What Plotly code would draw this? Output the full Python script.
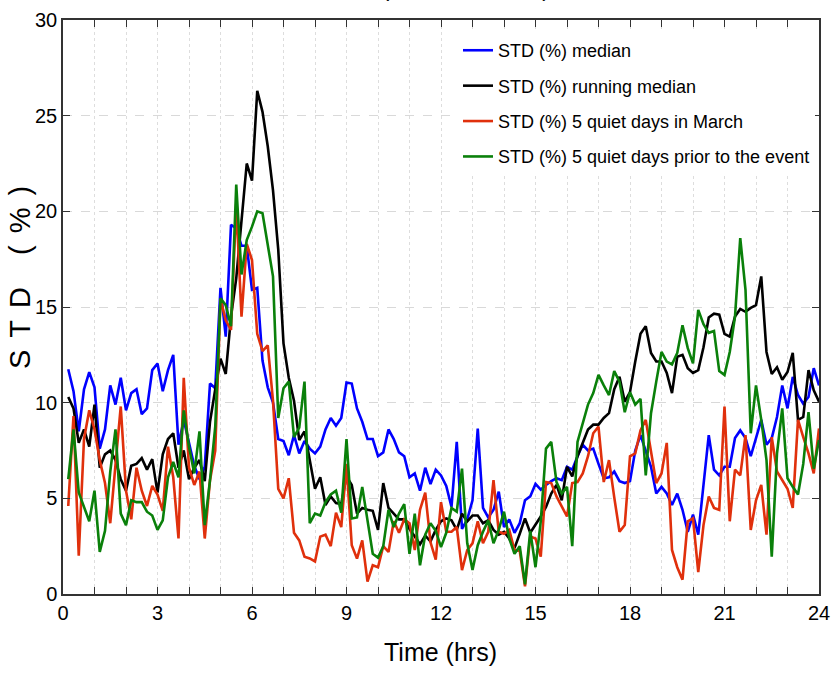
import plotly.graph_objects as go

# 10-minute samples over 24 hours
time_hrs = [i / 6 for i in range(1, 145)]

std_median = [
    11.75, 10.6, 8.5, 10.7, 11.6, 10.8, 7.6, 8.6, 10.9, 9.9, 11.3, 9.6,
    10.5, 10.7, 9.4, 9.7, 11.7, 12.05, 10.6, 11.7, 12.5, 7.8, 9.1, 7.9,
    6.7, 6.0, 6.65, 11.0, 10.75, 16.0, 13.45, 19.3, 19.1, 18.2, 18.2, 15.9,
    16.0, 12.2, 10.8, 10.0, 8.1, 8.0, 7.25, 8.3, 7.35, 8.0, 7.6, 7.35,
    7.7, 8.6, 9.2, 8.8, 9.2, 11.05, 11.0, 9.7, 9.0, 8.1, 8.1, 7.2,
    7.4, 8.6, 8.1, 7.4, 7.2, 6.1, 6.3, 5.4, 6.6, 5.75, 6.5, 6.2,
    5.65, 4.55, 7.95, 3.4, 3.9, 4.9, 8.65, 4.5, 4.0, 4.4, 5.35, 3.5,
    3.9, 3.2, 3.7, 4.9, 5.1, 5.75, 5.45, 5.7, 5.9, 6.05, 5.95, 6.65,
    6.5, 7.2, 7.8, 7.5, 7.6, 6.8, 6.05, 6.1, 6.4, 5.9, 5.8, 5.9,
    7.5, 8.3, 7.45, 6.65, 5.25, 5.6, 5.25, 4.65, 5.25, 4.4, 3.25, 4.15,
    3.1, 5.7, 8.3, 6.5, 6.2, 6.65, 6.65, 8.15, 8.55, 8.15, 7.2, 8.15,
    9.1, 7.8, 8.15, 9.25, 10.9, 9.7, 11.35, 10.4, 9.95, 10.3, 11.8, 10.9,
]

std_running_median = [
    10.3, 9.7, 7.9, 8.6, 7.7, 9.9, 6.6, 7.3, 7.5, 7.0, 6.0, 5.4,
    6.7, 6.8, 7.1, 6.5, 7.05, 5.3, 7.3, 8.1, 8.4, 6.6, 7.5, 6.0,
    6.6, 7.0, 5.9, 9.0, 10.7, 12.3, 11.5, 14.5, 16.5, 19.3, 22.5, 21.6,
    26.3, 25.2, 23.4, 21.1, 18.0, 13.1, 11.3, 10.1, 8.05, 8.5, 7.0, 5.5,
    6.1, 4.65, 5.1, 4.75, 4.7, 6.15, 5.7, 4.2, 4.5, 4.4, 4.35, 3.35,
    5.8, 4.5, 4.2, 3.9, 3.9, 3.4, 3.0, 2.6, 3.05, 2.75, 3.35, 3.8,
    3.95, 3.85, 3.35, 4.2, 3.8, 4.1, 4.1, 3.7, 3.85, 3.35, 3.1, 3.25,
    2.9, 2.4, 3.15, 3.95, 3.2, 3.6, 4.05, 4.55, 5.25, 5.7, 4.9, 6.65,
    6.15, 7.2, 7.9, 8.6, 8.85, 8.85, 9.2, 9.45, 10.7, 11.35, 10.05, 10.55,
    12.15, 13.6, 14.0, 12.6, 12.15, 12.15, 11.55, 10.5, 12.4, 12.5, 11.8, 11.55,
    11.7, 12.9, 14.45, 14.65, 14.6, 13.6, 13.45, 14.5, 14.9, 14.75, 14.95, 15.1,
    16.6, 12.65, 11.5, 11.85, 11.2, 11.6, 12.6, 9.1, 9.25, 11.7, 10.65, 10.05,
]

std_quiet_march = [
    4.6, 9.3, 2.0, 8.1, 9.6, 8.6, 7.0, 5.8, 3.7, 6.8, 9.8, 5.4,
    3.9, 6.6, 5.4, 4.6, 5.65, 5.2, 4.35, 7.7, 6.1, 2.9, 11.3, 6.6,
    5.7, 6.4, 2.9, 5.95, 7.5, 15.4, 14.3, 13.8, 20.4, 14.5, 18.3, 17.45,
    13.6, 12.7, 13.0, 10.1, 5.5, 5.0, 6.05, 3.2, 2.8, 1.95, 1.86, 1.7,
    3.0, 3.1, 2.5, 4.25, 3.5, 6.8, 2.55, 1.85, 2.8, 0.65, 1.5, 1.4,
    2.5, 2.2, 3.8, 3.2, 3.9, 3.7, 2.3, 4.4, 5.3, 2.7, 1.8, 4.8,
    3.25, 3.25, 3.5, 1.25, 2.3, 2.65, 3.8, 2.65, 3.25, 5.95, 3.25, 3.15,
    3.35, 2.3, 2.25, 0.4, 3.0, 2.9, 1.95, 5.85, 5.8, 5.1, 4.55, 4.05,
    5.8, 5.85, 6.3, 7.2, 8.4, 8.75, 5.85, 7.0, 5.05, 3.25, 3.6, 7.2,
    7.35, 8.55, 9.1, 7.35, 5.8, 6.3, 7.9, 2.3, 1.4, 0.75, 3.8, 3.95,
    1.15, 3.6, 5.1, 4.5, 4.4, 9.8, 3.8, 6.5, 6.2, 8.3, 3.35, 4.9,
    5.7, 3.1, 8.2, 6.4, 5.95, 5.5, 4.5, 9.1, 8.2, 7.35, 6.3, 8.65,
]

std_quiet_prior = [
    6.0, 8.6, 5.3, 4.6, 3.8, 5.4, 2.2, 3.3, 6.4, 8.6, 4.2, 3.6,
    4.9, 4.8, 4.8, 4.3, 4.1, 3.35, 3.85, 6.1, 6.9, 6.1, 9.6, 7.7,
    6.3, 8.5, 3.6, 5.95, 8.75, 15.45, 15.1, 14.0, 21.4, 16.7, 18.5, 19.2,
    20.0, 19.9, 18.3, 16.6, 9.2, 10.75, 11.1, 8.2, 8.7, 11.1, 3.7, 4.2,
    4.1, 4.8, 5.2, 5.4, 4.25, 8.1, 3.95, 4.0, 5.6, 3.8, 2.1, 1.9,
    2.5, 4.4, 3.5, 4.2, 4.7, 2.1, 4.2, 1.5, 3.1, 3.7, 3.3, 2.45,
    3.2, 4.5, 4.3, 6.55, 2.65, 1.25, 2.55, 3.25, 3.85, 2.65, 3.35, 4.3,
    2.9, 2.1, 2.5, 0.5, 3.3, 1.4, 3.8, 7.6, 7.95, 5.85, 5.25, 5.6,
    2.5, 7.95, 8.9, 9.9, 10.5, 11.45, 10.9, 10.4, 11.65, 11.1, 9.5, 10.55,
    9.9, 10.2, 6.2, 9.45, 11.1, 12.65, 12.15, 12.0, 12.6, 14.05, 12.85, 12.05,
    14.85, 14.1, 13.65, 13.75, 11.65, 11.45, 12.65, 14.5, 18.6, 15.9, 8.4, 10.9,
    9.1, 7.0, 1.95, 7.35, 9.7, 6.05, 5.6, 5.2, 6.8, 9.5, 6.55, 8.05,
]

series_names = [
    "STD (%) median",
    "STD (%) running median",
    "STD (%) 5 quiet days in March",
    "STD (%) 5 quiet days prior to the event",
]
series_values = [std_median, std_running_median, std_quiet_march, std_quiet_prior]
series_colors = ["#0000ff", "#000000", "#e0300c", "#0a800a"]

x_tick_vals = [0, 3, 6, 9, 12, 15, 18, 21, 24]
y_tick_vals = [0, 5, 10, 15, 20, 25, 30]

FONT = "Liberation Sans, Arial, sans-serif"

fig = go.Figure()
for k, (name, vals, col) in enumerate(zip(series_names, series_values, series_colors)):
    fig.add_trace(go.Scatter(
        x=time_hrs, y=vals, mode="lines", name=name,
        line=dict(color=col, width=2.6),
        legendgroup=f"g{k}",
    ))

fig.update_layout(
    width=832, height=673,
    margin=dict(l=63, r=13, t=20, b=79, autoexpand=False),
    plot_bgcolor="white", paper_bgcolor="white",
    showlegend=True,
    legend=dict(
        x=0.5225, y=0.979, xanchor="left", yanchor="top",
        bgcolor="white", borderwidth=0,
        font=dict(family=FONT, size=18, color="black"),
        tracegroupgap=9, itemwidth=30,
    ),
    font=dict(family=FONT, color="black"),
)

fig.update_xaxes(
    range=[0, 24], tickmode="array", tickvals=x_tick_vals,
    ticktext=[str(v) for v in x_tick_vals],
    tickfont=dict(family=FONT, size=20, color="black"),
    ticks="inside", ticklen=7, tickcolor="#333333", tickwidth=1,
    showline=True, linecolor="#333333", linewidth=1.5, mirror="ticks",
    showgrid=True, gridcolor="#dddddd", griddash="dot", gridwidth=1,
    minor=dict(dtick=1, ticks="inside", ticklen=7, tickcolor="#333333",
               showgrid=True, gridcolor="#dddddd", griddash="dot", gridwidth=1),
    zeroline=False,
)
fig.update_yaxes(
    range=[0, 30], tickmode="array", tickvals=y_tick_vals,
    ticktext=[str(v) for v in y_tick_vals],
    tickfont=dict(family=FONT, size=20, color="black"),
    ticks="inside", ticklen=7, tickcolor="#333333", tickwidth=1,
    showline=True, linecolor="#333333", linewidth=1.5, mirror="ticks",
    showgrid=True, gridcolor="#d9d9d9", griddash="dash", gridwidth=1,
    zeroline=False,
)

# axis titles
fig.add_annotation(
    text="Time (hrs)", xref="paper", yref="paper", x=0.499, y=-0.101,
    xanchor="center", yanchor="middle", showarrow=False,
    font=dict(family=FONT, size=25, color="black"),
)
fig.add_annotation(
    text='<span style="letter-spacing:12px">STD (%)</span>',
    xref="paper", yref="paper", x=-0.056, y=0.562,
    xanchor="center", yanchor="middle", textangle=-90, showarrow=False,
    font=dict(family=FONT, size=29, color="black"),
)
# title, mostly cut off at the top of the page (as in the original)
fig.add_annotation(
    text="(March 17, 2015)", xref="paper", yref="paper", x=0.533, y=1.029,
    xanchor="center", yanchor="bottom", showarrow=False,
    font=dict(family=FONT, size=22, color="black"),
)

fig.write_html("out.html")
